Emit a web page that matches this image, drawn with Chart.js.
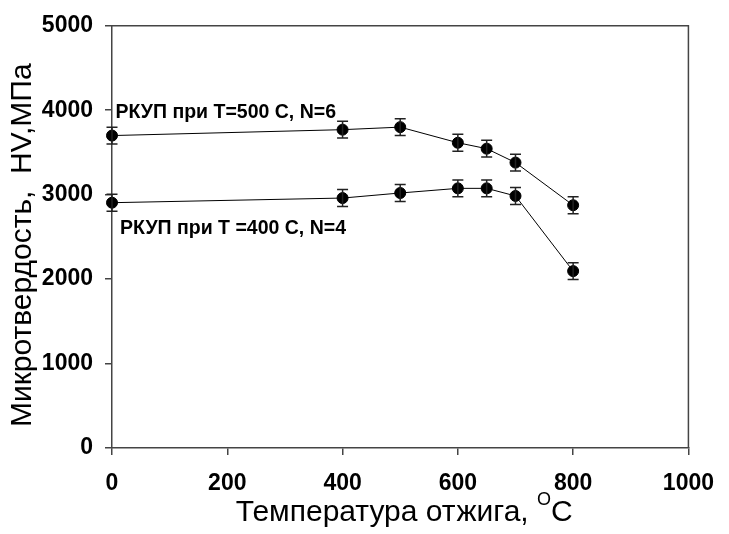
<!DOCTYPE html>
<html lang="ru">
<head>
<meta charset="UTF-8">
<title>Микротвердость</title>
<script src="https://cdn.jsdelivr.net/npm/chart.js"></script>
<style>
  html, body { margin: 0; padding: 0; background: #fff; }
  #wrap { width: 729px; height: 534px; }
</style>
</head>
<body>
<div id="wrap"><canvas id="hvChart" width="729" height="534"></canvas></div>
<script>
// температура отжига, C
const tempsN6 = [0, 400, 500, 600, 650, 700, 800]
const hvN6 = [3700, 3770, 3800, 3615, 3545, 3380, 2875]
const errN6 = [100, 100, 100, 100, 100, 100, 100]

const tempsN4 = [0, 400, 500, 600, 650, 700, 800]
const hvN4 = [2905, 2960, 3020, 3075, 3075, 2985, 2095]
const errN4 = [100, 100, 100, 100, 100, 100, 100]

const seriesNames = ['РКУП при Т=500 С, N=6', 'РКУП при Т =400 С, N=4']
const xTicks = [0, 200, 400, 600, 800, 1000]
const yTicks = [0, 1000, 2000, 3000, 4000, 5000]

const FONT = "Arial, 'Liberation Sans', sans-serif"
const FRAME = '#444'

const toPoints = (xs, ys) => xs.map((x, i) => ({ x, y: ys[i] }))

// error bars + frame + x title with superscript
const extras = {
  id: 'extras',
  afterDatasetsDraw(chart) {
    const { ctx, scales: { x, y } } = chart
    ctx.save()
    ctx.strokeStyle = '#222'
    ctx.lineWidth = 1.5
    chart.data.datasets.forEach(ds => {
      ds.data.forEach((p, i) => {
        const e = ds.errors[i]
        const px = x.getPixelForValue(p.x)
        const top = y.getPixelForValue(p.y + e)
        const bot = y.getPixelForValue(p.y - e)
        ctx.beginPath()
        ctx.moveTo(px, top); ctx.lineTo(px, bot)
        ctx.moveTo(px - 5.5, top); ctx.lineTo(px + 5.5, top)
        ctx.moveTo(px - 5.5, bot); ctx.lineTo(px + 5.5, bot)
        ctx.stroke()
      })
    })
    ctx.restore()
  },
  afterDraw(chart) {
    const { ctx, chartArea: a, scales: { x, y } } = chart
    ctx.save()
    ctx.strokeStyle = FRAME
    ctx.lineWidth = 1.5
    ctx.beginPath()
    ctx.moveTo(a.left, a.top); ctx.lineTo(a.right, a.top); ctx.lineTo(a.right, a.bottom)
    ctx.stroke()

    // подписи серий
    ctx.fillStyle = '#000'
    ctx.font = 'bold 19.5px ' + FONT
    ctx.textBaseline = 'alphabetic'
    ctx.textAlign = 'left'
    ctx.fillText(seriesNames[0], x.getPixelForValue(6), y.getPixelForValue(3910))
    ctx.fillText(seriesNames[1], x.getPixelForValue(14), y.getPixelForValue(2530))

    // подпись оси X
    const main = 'Температура отжига,'
    const big = '30px ' + FONT
    const small = '18px ' + FONT
    ctx.font = big
    const w1 = ctx.measureText(main + ' ').width
    const w3 = ctx.measureText('C').width
    ctx.font = small
    const w2 = ctx.measureText('O').width
    const cx = (a.left + a.right) / 2 + 4
    let sx = cx - (w1 + w2 + w3) / 2
    const base = 521
    ctx.font = big
    ctx.fillText(main, sx, base)
    sx += w1
    ctx.font = small
    ctx.fillText('O', sx, base - 16)
    sx += w2
    ctx.font = big
    ctx.fillText('C', sx, base)
    ctx.restore()
  }
}

new Chart(document.getElementById('hvChart'), {
  type: 'scatter',
  data: {
    datasets: [{
      label: seriesNames[0],
      data: toPoints(tempsN6, hvN6),
      errors: errN6
    }, {
      label: seriesNames[1],
      data: toPoints(tempsN4, hvN4),
      errors: errN4
    }].map(ds => ({
      ...ds,
      showLine: true,
      borderColor: '#000',
      borderWidth: 1,
      backgroundColor: '#000',
      pointRadius: 5.5,
      pointHoverRadius: 5.5,
      clip: false
    }))
  },
  options: {
    responsive: false,
    animation: false,
    layout: { padding: { top: 23, right: 29, left: 0, bottom: 0 } },
    plugins: {
      legend: { display: false },
      tooltip: { enabled: false }
    },
    scales: {
      x: {
        type: 'linear',
        min: 0,
        max: 1000,
        afterFit: s => { s.height = 86 },
        afterBuildTicks: s => { s.ticks = xTicks.map(v => ({ value: v })) },
        grid: { drawOnChartArea: false, drawTicks: true, tickLength: 7, color: FRAME, lineWidth: 1.5 },
        border: { display: true, color: FRAME, width: 1.5 },
        ticks: {
          color: '#000', padding: 15, maxRotation: 0,
          callback: v => String(v),
          font: { family: FONT, size: 23, weight: 'bold' }
        }
      },
      y: {
        type: 'linear',
        min: 0,
        max: 5000,
        afterFit: s => { s.width = 112 },
        afterBuildTicks: s => { s.ticks = yTicks.map(v => ({ value: v })) },
        grid: { drawOnChartArea: false, drawTicks: true, tickLength: 7, color: FRAME, lineWidth: 1.5 },
        border: { display: true, color: FRAME, width: 1.5 },
        ticks: {
          color: '#000', padding: 12,
          callback: v => String(v),
          font: { family: FONT, size: 23, weight: 'bold' }
        },
        title: {
          display: true,
          text: 'Микротвердость,  HV,МПа  ',
          color: '#000',
          padding: { top: 5, bottom: 0 },
          font: { family: FONT, size: 30 }
        }
      }
    }
  },
  plugins: [extras]
})
</script>
</body>
</html>
